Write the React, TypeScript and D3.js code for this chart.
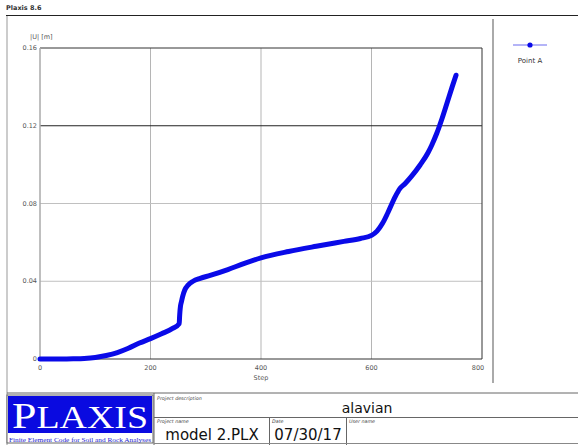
import React from "react";
import * as d3 from "d3";

// Load-displacement history of Point A
const steps = [0, 40, 60, 80, 100, 120, 140, 160, 180, 200, 220, 240, 252, 252.6, 253.3, 254.2, 256, 258, 262, 268, 277, 290, 308, 340, 370, 400, 450, 500, 550, 580, 600, 610, 620, 630, 643, 651, 661, 673, 688, 702, 709, 718, 728, 737, 746, 753];
const displacement = [0, 0, 0.0001, 0.0003, 0.0008, 0.0018, 0.0033, 0.0055, 0.0082, 0.0105, 0.013, 0.0157, 0.0182, 0.0215, 0.0245, 0.027, 0.0295, 0.032, 0.0355, 0.038, 0.04, 0.0415, 0.043, 0.046, 0.0492, 0.052, 0.0553, 0.058, 0.0605, 0.062, 0.0636, 0.0658, 0.0698, 0.0755, 0.0835, 0.0875, 0.0903, 0.0942, 0.0998, 0.106, 0.11, 0.116, 0.124, 0.132, 0.14, 0.146];

const xTicks = [0, 200, 400, 600, 800];
const yTicks = [0, 0.04, 0.08, 0.12, 0.16];
const yTickLabels = ["0", "0.04", "0.08", "0.12", "0.16"];

const seriesName = "Point A";
const versionLabel = "Plaxis 8.6";
const xTitle = "Step";
const yTitle = "|U| [m]";
const projectDescription = "alavian";
const projectName = "model 2.PLX";
const dateText = "07/30/17";

const W = 578;
const H = 445;
const plot = { left: 40, right: 482, top: 48, bottom: 359 };
const font = "'DejaVu Sans', Verdana, sans-serif";
const serif = "'Liberation Serif', 'DejaVu Serif', serif";

export default function App() {
  const x = d3.scaleLinear().domain([0, 800]).range([plot.left, plot.right]);
  const y = d3.scaleLinear().domain([0, 0.16]).range([plot.bottom, plot.top]);
  const pts = steps.map((s, i) => [s, displacement[i]] as [number, number]);
  const line = d3
    .line<[number, number]>()
    .x((d) => x(d[0]))
    .y((d) => y(d[1]))
    .curve(d3.curveMonotoneX);

  const small = { fontFamily: font, fontSize: 6.5, fill: "#555" };
  const cellLabel = { fontFamily: font, fontSize: 4.8, fontStyle: "italic", fill: "#444" };

  return (
    <svg
      width={W}
      height={H}
      style={{ position: "absolute", left: 0, top: 0, background: "#fff" }}
    >
      {/* page frame */}
      <text x={6} y={10} style={{ ...small, fontWeight: "bold", fill: "#333" }}>
        {versionLabel}
      </text>
      <line x1={6} x2={W} y1={15.5} y2={15.5} stroke="#222" strokeWidth={1} />
      <line x1={7} x2={7} y1={16} y2={H} stroke="#ccc" strokeWidth={2} />
      <line x1={493} x2={493} y1={19} y2={383} stroke="#aaa" strokeWidth={2} />

      {/* grid */}
      {xTicks.slice(1, -1).map((t) => (
        <line key={"gx" + t} x1={x(t)} x2={x(t)} y1={plot.top} y2={plot.bottom} stroke="#b5b5b5" strokeWidth={1} />
      ))}
      {yTicks.slice(1, -1).map((t) => (
        <line
          key={"gy" + t}
          x1={plot.left}
          x2={plot.right}
          y1={y(t)}
          y2={y(t)}
          stroke={t === 0.12 ? "#222" : "#c0c0c0"}
          strokeWidth={1}
        />
      ))}
      {/* plot border */}
      <line x1={plot.left} x2={plot.right} y1={plot.top} y2={plot.top} stroke="#333" strokeWidth={1} />
      <line x1={plot.right} x2={plot.right} y1={plot.top} y2={plot.bottom} stroke="#333" strokeWidth={1} />
      <line x1={plot.left} x2={plot.right} y1={plot.bottom} y2={plot.bottom} stroke="#333" strokeWidth={1} />
      <line x1={plot.left} x2={plot.left} y1={plot.top} y2={plot.bottom} stroke="#aaa" strokeWidth={1.5} />

      {/* tick labels */}
      {yTicks.map((t, i) => (
        <text key={"ty" + t} x={plot.left - 3} y={y(t) + 2} textAnchor="end" style={small}>
          {yTickLabels[i]}
        </text>
      ))}
      {xTicks.map((t) => (
        <text key={"tx" + t} x={x(t) + (t === 800 ? -4 : 0)} y={plot.bottom + 11} textAnchor="middle" style={small}>
          {t}
        </text>
      ))}
      <text x={(plot.left + plot.right) / 2} y={plot.bottom + 21} textAnchor="middle" style={small}>
        {xTitle}
      </text>
      <text x={30} y={39} style={small}>
        {yTitle}
      </text>

      {/* series */}
      <path d={line(pts) || ""} fill="none" stroke="#0a0ae8" strokeWidth={5} strokeLinejoin="round" strokeLinecap="round" />

      {/* legend */}
      <line x1={513} x2={547} y1={45} y2={45} stroke="#6b6bf0" strokeWidth={1.2} />
      <circle cx={530} cy={45} r={2.6} fill="#0a0ae8" />
      <text x={530} y={63} textAnchor="middle" style={{ ...small, fontSize: 7, fill: "#333" }}>
        {seriesName}
      </text>

      {/* title block */}
      <line x1={7} x2={W} y1={393} y2={393} stroke="#666" strokeWidth={1} />
      <rect x={7} y={395} width={146} height={48} fill="#fff" stroke="#666" strokeWidth={1} />
      <rect x={8} y={396} width={144} height={37} fill="#0a0ae0" />
      <text
        x={80}
        y={428}
        textAnchor="middle"
        style={{ fontFamily: serif, fontSize: 36, fill: "#fff" }}
        textLength={136}
        lengthAdjust="spacingAndGlyphs"
      >
        <tspan>P</tspan>
        <tspan fontSize={31}>LAXIS</tspan>
      </text>
      <text
        x={80}
        y={441.5}
        textAnchor="middle"
        style={{ fontFamily: serif, fontSize: 6.8, fill: "#1a1ad0" }}
        textLength={142}
        lengthAdjust="spacingAndGlyphs"
      >
        Finite Element Code for Soil and Rock Analyses
      </text>

      <line x1={154} x2={154} y1={393} y2={H} stroke="#666" strokeWidth={1} />
      <line x1={154} x2={W} y1={417.5} y2={417.5} stroke="#666" strokeWidth={1} />
      <line x1={269.5} x2={269.5} y1={417.5} y2={H} stroke="#666" strokeWidth={1} />
      <line x1={346.5} x2={346.5} y1={417.5} y2={H} stroke="#666" strokeWidth={1} />
      <line x1={154} x2={W} y1={443.5} y2={443.5} stroke="#888" strokeWidth={1} />

      <text x={157} y={399.5} style={cellLabel}>Project description</text>
      <text x={157} y={423} style={cellLabel}>Project name</text>
      <text x={272} y={423} style={cellLabel}>Date</text>
      <text x={349} y={423} style={cellLabel}>User name</text>

      <text x={367} y={413} textAnchor="middle" style={{ fontFamily: font, fontSize: 14, fill: "#111" }}>
        {projectDescription}
      </text>
      <text x={212} y={440} textAnchor="middle" style={{ fontFamily: font, fontSize: 15, fill: "#111" }}>
        {projectName}
      </text>
      <text x={308} y={440} textAnchor="middle" style={{ fontFamily: font, fontSize: 15, fill: "#111" }}>
        {dateText}
      </text>
    </svg>
  );
}
